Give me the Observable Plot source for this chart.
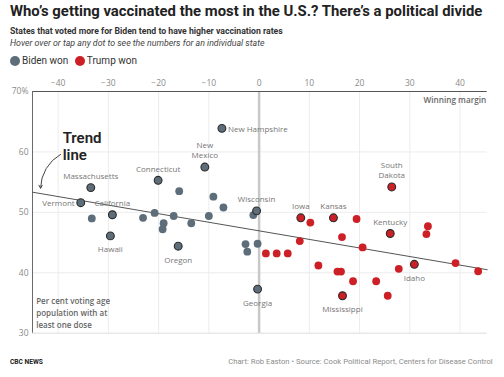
<!DOCTYPE html>
<html><head><meta charset="utf-8">
<script src="https://cdn.jsdelivr.net/npm/d3@7"></script>
<script src="https://cdn.jsdelivr.net/npm/@observablehq/plot@0.6"></script>
<style>
html,body{margin:0;padding:0;background:#fff;}
body{width:504px;height:377px;position:relative;overflow:hidden;font-family:"Open Sans",sans-serif;}
.t{position:absolute;white-space:nowrap;}
.narrow{font-family:"Liberation Sans Narrow","Roboto",sans-serif;}
#title{left:10px;top:0px;line-height:22px;font-size:15px;font-weight:700;color:#222;}
#sub{left:10px;top:24px;line-height:14px;font-size:9px;font-weight:700;color:#333;}
#hint{left:10px;top:36.3px;line-height:14px;font-size:9px;font-style:italic;color:#444;}
#legend{left:10px;top:54.3px;line-height:14px;font-size:10px;color:#333;display:flex;align-items:center;}
.sw{display:inline-block;width:10px;height:10px;border-radius:50%;margin-right:2px;}
#chart{position:absolute;left:0;top:70px;}
#brand{left:10px;top:354.7px;line-height:14px;font-size:8px;font-weight:700;color:#222;}
#credit{right:11.3px;top:354.7px;line-height:14px;font-size:8px;color:#8c8c8c;}
</style></head><body>
<div id="title" class="t narrow">Who’s getting vaccinated the most in the U.S.? There’s a political divide</div>
<div id="sub" class="t narrow">States that voted more for Biden tend to have higher vaccination rates</div>
<div id="hint" class="t narrow">Hover over or tap any dot to see the numbers for an individual state</div>
<div id="legend" class="t narrow"></div>
<div id="chart"></div>
<div id="brand" class="t narrow">CBC NEWS</div>
<div id="credit" class="t narrow">Chart: Rob Easton • Source: Cook Political Report, Centers for Disease Control</div>
<script>
// ---- data ----
const parties = ["Biden won", "Trump won"];
const partyColors = ["#5d6d79", "#cc1f26"];

const bidenLabel  = ["Massachusetts","Vermont","","California","Hawaii","","","","","","Oregon","","","","Wisconsin","","","","","Georgia","New Hampshire","New Mexico","Connecticut","",""];
const bidenMargin = [-33.5,-35.5,-33.3,-29.2,-29.6,-23.1,-20.8,-19.0,-19.2,-17.0,-16.1,-13.5,-10.0,-7.1,-0.5,-1.15,-2.7,-2.35,-0.3,-0.3,-7.4,-10.8,-20.1,-15.9,-9.1];
const bidenRate   = [54.1,51.6,49.0,49.6,46.1,49.1,49.9,48.2,47.2,49.4,44.4,48.2,49.4,50.8,50.25,49.55,44.75,43.5,44.8,37.3,63.9,57.5,55.3,53.5,52.6];

const trumpLabel  = ["Iowa","","Kansas","","Kentucky","","","","","","","","","","","","","","Mississippi","","","Idaho","","","South Dakota"];
const trumpMargin = [8.3,10.2,14.8,19.4,26.1,33.6,33.3,8.1,16.5,20.6,1.35,3.5,5.7,11.8,15.6,16.3,18.7,23.3,16.6,25.6,27.8,30.9,39.1,43.6,26.4];
const trumpRate   = [49.1,48.3,49.1,48.9,46.5,47.7,46.4,45.25,45.9,44.2,43.2,43.2,43.2,41.2,40.2,40.2,38.6,38.6,36.2,36.2,40.65,41.4,41.6,40.25,54.2];

const xTicks = [-40,-30,-20,-10,0,10,20,30,40];
const yTicks = [30,40,50,60,70];
const xDomain = [-45.1, 45.4];
const yDomain = [30, 70];

// trend line
const trendIntercept = 46.94;
const trendSlope = -0.1418;

const labelPlacement = {
  "Massachusetts":"above","California":"above","Connecticut":"above","New Mexico":"above","Wisconsin":"above",
  "Iowa":"above","Kansas":"above","South Dakota":"above","Kentucky":"above",
  "Hawaii":"below","Oregon":"below","Georgia":"below","Idaho":"below","Mississippi":"below",
  "Vermont":"left","New Hampshire":"right"
};
const labelText = {"New Mexico":"New\nMexico","South Dakota":"South\nDakota"};

// ---- build rows ----
const rows = [
  ...bidenMargin.map((m,i)=>({party:parties[0], name:bidenLabel[i], margin:m, rate:bidenRate[i]})),
  ...trumpMargin.map((m,i)=>({party:parties[1], name:trumpLabel[i], margin:m, rate:trumpRate[i]}))
];
const plain = rows.filter(d=>!d.name);
const labeled = rows.filter(d=>d.name);
const lab = p => labeled.filter(d=>labelPlacement[d.name]===p);
const trend = xDomain.map(x=>({margin:x, rate: trendIntercept + trendSlope*x}));
const txt = d => labelText[d.name] || d.name;

// legend
const leg = document.getElementById("legend");
parties.forEach((p,i)=>{
  const s=document.createElement("span"); s.className="sw"; s.style.background=partyColors[i];
  if(i>0) s.style.marginLeft="6.5px";
  leg.appendChild(s);
  const t=document.createElement("span"); t.textContent=p; leg.appendChild(t);
});

const labelStyle = {x:"margin", y:"rate", text:txt, fill:"#767676", fontSize:8, lineHeight:1.32};

const chart = Plot.plot({
  width: 504, height: 280,
  marginTop: 21, marginBottom: 17.3, marginLeft: 32, marginRight: 17.3,
  style: {fontFamily:"Open Sans", fontSize:"8.5px", color:"#8a8a8a", background:"transparent", overflow:"visible"},
  x: {domain: xDomain, axis: "top", ticks: xTicks, tickSize: 0, tickPadding: 5.5, label: null,
      tickFormat: d => d < 0 ? "\u2212" + (-d) : String(d)},
  y: {domain: yDomain, ticks: yTicks, tickSize: 0, tickPadding: 4, label: null,
      tickFormat: d => d === 70 ? "70%" : String(d)},
  color: {domain: parties, range: partyColors},
  marks: [
    Plot.ruleX(xTicks, {stroke:"#ececec"}),
    Plot.ruleY(yTicks.filter(d=>d>yDomain[0] && d<yDomain[1]), {stroke:"#ececec"}),
    Plot.ruleY([yDomain[0]], {stroke:"#dcdcdc"}),
    Plot.ruleX([0], {stroke:"#c8c8c8", strokeWidth:2.5}),
    Plot.ruleY([yDomain[1]], {stroke:"#555", strokeWidth:1.2}),
    Plot.ruleX([xDomain[0]], {stroke:"#6a6a6a", strokeWidth:1}),
    Plot.line(trend, {x:"margin", y:"rate", stroke:"#555", strokeWidth:1}),
    Plot.dot(plain, {x:"margin", y:"rate", fill:"party", r:3.9}),
    Plot.dot(labeled, {x:"margin", y:"rate", fill:"party", r:3.9, stroke:"#2b2b2b", strokeWidth:1.1}),
    Plot.text(lab("above"), {...labelStyle, lineAnchor:"bottom", dy:-8.6}),
    Plot.text(lab("below"), {...labelStyle, lineAnchor:"top", dy:9}),
    Plot.text(lab("left"), {...labelStyle, textAnchor:"end", lineAnchor:"middle", dx:-6}),
    Plot.text(lab("right"), {...labelStyle, textAnchor:"start", lineAnchor:"middle", dx:6}),
    Plot.text(["Winning margin"], {frameAnchor:"top-right", textAnchor:"end", lineAnchor:"middle", dx:-1, dy:9.3, fill:"#666", fontWeight:600, fontSize:8.2}),
    Plot.text(["Per cent voting age\npopulation with at\nleast one dose"], {frameAnchor:"bottom-left", textAnchor:"start", lineAnchor:"bottom", dx:3.7, dy:-5.5, fill:"#666", fontWeight:600, fontSize:8, lineHeight:1.46}),
    Plot.text(["Trend\nline"], {x:()=>-39.1, y:()=>60.9, textAnchor:"start", lineAnchor:"middle", fill:"#222", fontWeight:600, fontSize:15, lineHeight:1.12, fontFamily:"Liberation Sans Narrow, Roboto, sans-serif"}),
    Plot.arrow([0], {x1:()=>-39.5, y1:()=>59.6, x2:()=>-43.5, y2:()=>54.0, bend:-30, stroke:"#444", strokeWidth:1, headLength:5})
  ]
});
document.getElementById("chart").appendChild(chart);

// fit HTML text widths to the reference
function fit(id, w){
  const el=document.getElementById(id);
  const r=el.getBoundingClientRect().width;
  const fs=parseFloat(getComputedStyle(el).fontSize);
  el.style.fontSize=(fs*w/r)+"px";
}
fit("title",473); fit("sub",273); fit("hint",255); fit("brand",33); fit("credit",265);
</script>
</body></html>
